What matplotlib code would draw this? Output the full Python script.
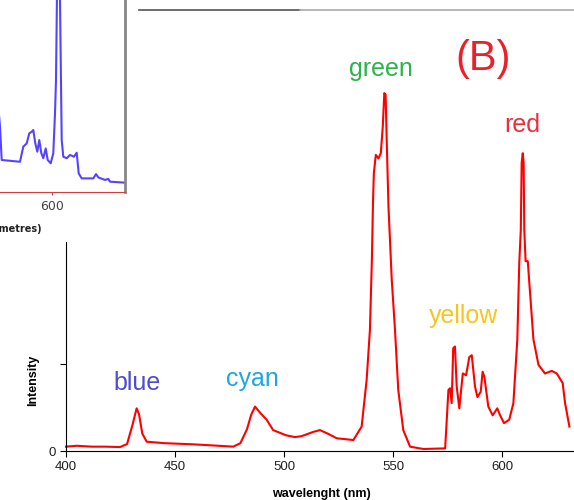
import matplotlib.pyplot as plt
from matplotlib.lines import Line2D

plt.rcParams['font.family'] = ['Liberation Sans', 'DejaVu Sans']

# espectro principal (B)
wl = [400, 405, 412, 418, 424.8, 428, 430.5, 432.4, 433.5, 435, 437, 445, 458, 470, 476.7,
      480, 483, 485, 486.7, 489, 492, 495, 498, 501, 505, 508, 513.5, 516.5, 520, 524.2,
      531.8, 535.6, 537.9, 539.4, 540.3, 540.8, 541.2, 542.1, 543.3, 544.4, 545.3, 546.0,
      546.6, 547.1, 547.9, 548.6, 549.4, 550.9, 552.4, 554.7, 557.8, 563.9, 573.9, 575.4,
      576.1, 576.9, 577.6, 578.4, 579.2, 580.4, 582.0, 583.5, 585.0, 586.1, 587.6, 588.7,
      590.2, 591.1, 591.9, 593.7, 595.7, 597.8, 599.1, 600.9, 603.3, 605.2, 607.0, 607.9,
      608.6, 609.0, 609.5, 609.9, 610.2, 610.8, 611.8, 612.4, 614.4, 616.7, 619.7, 622.8,
      625.1, 627.8, 628.9, 630.9]
intensity = [0.05, 0.06, 0.05, 0.05, 0.045, 0.08, 0.3, 0.49, 0.42, 0.2, 0.107, 0.09, 0.077,
             0.06, 0.05, 0.09, 0.25, 0.42, 0.51, 0.44, 0.36, 0.24, 0.21, 0.18, 0.16, 0.17,
             0.22, 0.24, 0.2, 0.146, 0.126, 0.28, 0.82, 1.39, 2.2, 2.85, 3.19, 3.40, 3.36,
             3.42, 3.73, 4.11, 4.09, 3.57, 2.81, 2.42, 1.97, 1.39, 0.70, 0.24, 0.05, 0.023,
             0.03, 0.70, 0.72, 0.55, 1.18, 1.20, 0.74, 0.49, 0.89, 0.87, 1.08, 1.10, 0.74,
             0.62, 0.68, 0.91, 0.85, 0.51, 0.41, 0.49, 0.41, 0.32, 0.36, 0.55, 1.28, 2.16,
             2.54, 3.31, 3.42, 3.31, 2.54, 2.18, 2.18, 1.97, 1.28, 0.99, 0.89, 0.92, 0.89,
             0.78, 0.55, 0.28]

# etiquetas de color
label_names = ['blue', 'cyan', 'green', 'yellow', 'red']
label_wl = [432.6, 485.3, 544.5, 582.1, 609.2]
label_int = [0.70, 0.75, 4.31, 1.47, 3.66]
label_colors = ['#4d4dcf', '#1ea7e1', '#2db34a', '#f7c51e', '#ee2d3c']

# espectro del recuadro (panel A, recortado)
wl_a = [490, 496, 499.4, 536, 542.6, 549.4, 554.6, 559.4, 562.6, 566.6, 570.6, 574.6, 578.6,
        582.6, 587.4, 591.4, 597.4, 602.6, 606, 608, 611, 613, 616, 619.4, 622.6, 629.4,
        636, 644, 649.4, 653.4, 659.4, 682.6, 688, 692.6, 706, 712.6, 716, 746]
int_a = [40, 25.9, 12.7, 12.0, 18.0, 19.3, 23.3, 23.9, 24.6, 19.3, 16.0, 20.6, 15.4, 13.4,
         17.3, 12.7, 11.4, 15.4, 31.2, 44.4, 96, 96, 76, 20.6, 14.0, 13.4, 14.7, 14.0, 15.6,
         7.4, 5.4, 5.4, 7.1, 5.8, 4.8, 5.2, 4.1, 3.7]

W, H = 574, 500
fig = plt.figure(figsize=(W / 100, H / 100), dpi=100)

# recuadro A
axa = fig.add_axes([-48 / W, (H - 192) / H, 173 / W, 252 / H])
axa.plot(wl_a, int_a, color='#5544ff', lw=1.5)
axa.set_xlim(400, 746)
axa.set_ylim(0, 100)
axa.set_yticks([])
axa.set_xticks([600])
axa.tick_params(axis='x', length=2, color='#cc4444', labelsize=9, labelcolor='#444444')
for lab in axa.get_xticklabels():
    lab.set_family('DejaVu Sans')
axa.spines['top'].set_visible(False)
axa.spines['left'].set_visible(False)
axa.spines['right'].set_color('#888888')
axa.spines['right'].set_linewidth(2)
axa.spines['bottom'].set_color('#d04040')
axa.spines['bottom'].set_linewidth(0.8)
fig.text(42 / W, (H - 229) / H, 'Wavelength (nanometres)', ha='right', va='center',
         fontsize=7, fontweight='bold', family='DejaVu Sans', color='#222222')

# linea superior del otro panel
fig.add_artist(Line2D([139 / W, 300 / W], [(H - 10) / H] * 2, color='#555555', lw=1.2))
fig.add_artist(Line2D([300 / W, 1.0], [(H - 10) / H] * 2, color='#aaaaaa', lw=1.2))

# grafico principal
ax = fig.add_axes([66 / W, (H - 451) / H, 508 / W, 209 / H])
ax.plot(wl, intensity, color='#ff0000', lw=1.5, clip_on=False)
ax.set_xlim(400, 633)
ax.set_ylim(0, 2.4)
ax.set_xticks([400, 450, 500, 550, 600])
ax.set_yticks([0, 1])
ax.set_yticklabels(['0', ''])
ax.tick_params(length=4, width=0.8, labelsize=9.5, labelcolor='#222222')
ax.spines['top'].set_visible(False)
ax.spines['right'].set_visible(False)
ax.set_xlabel('wavelenght (nm)', fontsize=9, fontweight='bold')
ax.set_ylabel('Intensity', fontsize=9, fontweight='bold')
ax.xaxis.set_label_coords(0.503, -0.176)
ax.yaxis.set_label_coords(-0.053, 0.34)

for name, x, y, c in zip(label_names, label_wl, label_int, label_colors):
    ax.text(x, y, name, color=c, fontsize=18, ha='center', va='baseline', clip_on=False)
ax.text(591.3, 4.38, '(B)', color='#e8212b', fontsize=30, ha='center', va='baseline',
        clip_on=False)

plt.savefig('out.png', dpi=100)
